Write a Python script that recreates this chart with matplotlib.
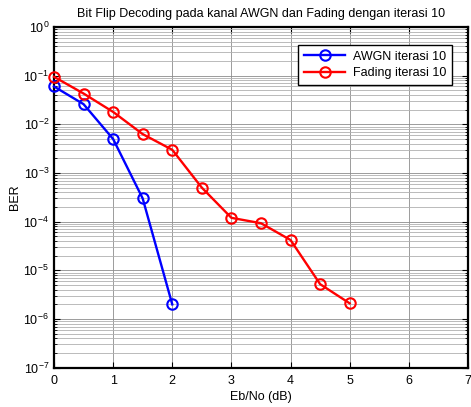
import matplotlib
matplotlib.use("Agg")
import matplotlib.pyplot as plt
from matplotlib.ticker import LogLocator, FixedLocator, NullFormatter

plt.rcParams['font.family'] = ['Liberation Sans', 'DejaVu Sans']
plt.rcParams['mathtext.fontset'] = 'custom'
plt.rcParams['mathtext.rm'] = 'Liberation Sans'
plt.rcParams['mathtext.it'] = 'Liberation Sans'

# Eb/No points (dB) and bit error rates
ebno_awgn = [0, 0.5, 1, 1.5, 2]
ber_awgn = [0.06, 0.026, 0.005, 3e-4, 2e-6]

ebno_fading = [0, 0.5, 1, 1.5, 2, 2.5, 3, 3.5, 4, 4.5, 5]
ber_fading = [0.095, 0.043, 0.018, 0.0063, 0.003, 5e-4, 1.2e-4, 9.3e-5, 4.2e-5, 5.2e-6, 2.1e-6]

labels = ['AWGN iterasi 10', 'Fading iterasi 10']
title = 'Bit Flip Decoding pada kanal AWGN dan Fading dengan iterasi 10'

fig = plt.figure(figsize=(4.71, 4.07), dpi=100)
ax = fig.add_axes([0.1146, 0.0966, 0.879, 0.837])

ax.semilogy(ebno_awgn, ber_awgn, '-o', color='#0000ff', lw=1.7, ms=7.5,
            mfc='none', mew=1.5, label=labels[0], clip_on=False, zorder=3)
ax.semilogy(ebno_fading, ber_fading, '-o', color='#ff0000', lw=1.7, ms=7.5,
            mfc='none', mew=1.5, label=labels[1], clip_on=False, zorder=3)

ax.set_xlim(0, 7)
ax.set_ylim(1e-7, 1e0)
ax.xaxis.set_major_locator(FixedLocator(range(0, 8)))
ax.yaxis.set_major_locator(LogLocator(base=10, numticks=10))
ax.yaxis.set_minor_locator(LogLocator(base=10, subs=range(2, 10), numticks=100))
ax.yaxis.set_minor_formatter(NullFormatter())

ax.grid(True, which='major', axis='both', color='#8c8c8c', ls='-', lw=0.6)
ax.grid(True, which='minor', axis='y', color='#b0b0b0', ls='-', lw=0.6)

ax.tick_params(which='both', direction='in', top=True, right=True,
               labelsize=9, color='black')
ax.tick_params(which='major', length=4)
ax.tick_params(axis='x', which='major', pad=5)
ax.tick_params(which='minor', length=2)
for s in ax.spines.values():
    s.set_linewidth(1.6)

ax.set_xlabel('Eb/No (dB)', fontsize=9, labelpad=3)
ax.set_ylabel('BER', fontsize=9, labelpad=2)
ax.set_title(title, fontsize=9, pad=7)

leg = ax.legend(loc='upper right', bbox_to_anchor=(0.961, 0.947), borderaxespad=0,
                fontsize=9, fancybox=False, edgecolor='black', framealpha=1,
                handlelength=3.3, handletextpad=0.6, borderpad=0.45, labelspacing=0.35)
leg.get_frame().set_linewidth(1.0)

fig.savefig('out.png', dpi=100)
